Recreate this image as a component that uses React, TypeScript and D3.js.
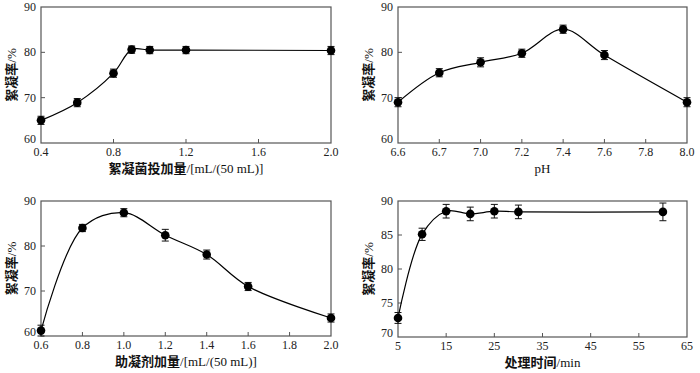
import * as d3 from "d3";

// panel (a) flocculant bacteria dosage
const doseX = [0.4, 0.6, 0.8, 0.9, 1.0, 1.2, 2.0];
const doseY = [65.0, 68.9, 75.4, 80.6, 80.5, 80.5, 80.4];
const doseErr = [0.9, 0.9, 0.9, 0.8, 0.8, 0.8, 0.9];
const doseTicks = [0.4, 0.8, 1.2, 1.6, 2.0];

// panel (b) pH
const phTicks = ["6.6", "6.7", "7.0", "7.2", "7.4", "7.6", "7.8", "8.0"];
const phX = ["6.6", "6.7", "7.0", "7.2", "7.4", "7.6", "8.0"];
const phY = [69.0, 75.5, 77.8, 79.8, 85.1, 79.4, 69.0];
const phErr = [1.0, 0.9, 1.0, 0.9, 0.9, 1.0, 1.0];

// panel (c) coagulant aid dosage
const aidX = [0.6, 0.8, 1.0, 1.2, 1.4, 1.6, 2.0];
const aidY = [61.2, 84.0, 87.4, 82.4, 78.1, 71.0, 64.0];
const aidErr = [1.2, 0.8, 0.9, 1.3, 1.0, 0.9, 0.9];
const aidTicks = [0.6, 0.8, 1.0, 1.2, 1.4, 1.6, 1.8, 2.0];

// panel (d) treatment time
const timeX = [5, 10, 15, 20, 25, 30, 60];
const timeY = [72.8, 85.1, 88.5, 88.1, 88.5, 88.4, 88.4];
const timeErr = [0.8, 0.9, 1.0, 1.0, 1.0, 1.0, 1.3];
const timeTicks = [5, 15, 25, 35, 45, 55, 65];

const yTicks60 = [60, 70, 80, 90];
const yTicks70 = [70, 75, 80, 85, 90];
const yTitle = "絮凝率/%";

const serif = "'Liberation Serif', 'Times New Roman', 'Noto Sans CJK SC', serif";
const frame = "#555";

type Panel = {
  box: [number, number, number, number]; // left, top, right, bottom
  x: any;
  xTicks: any[];
  fmt: (v: any) => string;
  y: d3.ScaleLinear<number, number>;
  yTicks: number[];
  xs: any[];
  ys: number[];
  err: number[];
  xTitle: string;
};

function makePanels(): Panel[] {
  const p1: [number, number, number, number] = [41, 7, 331, 143];
  const p2: [number, number, number, number] = [398, 7, 687, 143];
  const p3: [number, number, number, number] = [41, 201, 331, 336];
  const p4: [number, number, number, number] = [398, 201, 687, 337];
  return [
    {
      box: p1,
      x: d3.scaleLinear().domain([0.4, 2.0]).range([p1[0], p1[2]]),
      xTicks: doseTicks,
      fmt: d3.format(".1f"),
      y: d3.scaleLinear().domain([60, 90]).range([p1[3], p1[1]]),
      yTicks: yTicks60,
      xs: doseX, ys: doseY, err: doseErr,
      xTitle: "絮凝菌投加量/[mL/(50 mL)]",
    },
    {
      box: p2,
      x: d3.scalePoint<string>().domain(phTicks).range([p2[0], p2[2]]),
      xTicks: phTicks,
      fmt: (v: string) => v,
      y: d3.scaleLinear().domain([60, 90]).range([p2[3], p2[1]]),
      yTicks: yTicks60,
      xs: phX, ys: phY, err: phErr,
      xTitle: "pH",
    },
    {
      box: p3,
      x: d3.scaleLinear().domain([0.6, 2.0]).range([p3[0], p3[2]]),
      xTicks: aidTicks,
      fmt: d3.format(".1f"),
      y: d3.scaleLinear().domain([60, 90]).range([p3[3], p3[1]]),
      yTicks: yTicks60,
      xs: aidX, ys: aidY, err: aidErr,
      xTitle: "助凝剂加量/[mL/(50 mL)]",
    },
    {
      box: p4,
      x: d3.scaleLinear().domain([5, 65]).range([p4[0], p4[2]]),
      xTicks: timeTicks,
      fmt: d3.format("d"),
      y: d3.scaleLinear().domain([70, 90]).range([p4[3], p4[1]]),
      yTicks: yTicks70,
      xs: timeX, ys: timeY, err: timeErr,
      xTitle: "处理时间/min",
    },
  ];
}

// chinese part drawn heavier, like the printed figure
function Title({ s }: { s: string }) {
  const k = s.indexOf("/");
  if (k < 0) return <>{s}</>;
  return (
    <>
      <tspan fontWeight={700}>{s.slice(0, k)}</tspan>
      <tspan>{s.slice(k)}</tspan>
    </>
  );
}

function Chart({ p }: { p: Panel }) {
  const [l, t, r, b] = p.box;
  const pts = p.xs.map((xv, i) => [p.x(xv) as number, p.y(p.ys[i])] as [number, number]);
  const line = d3.line().curve(d3.curveCatmullRom.alpha(0.5))(pts) || "";
  const cx = (l + r) / 2;
  const cy = (t + b) / 2;
  return (
    <g>
      <rect x={l} y={t} width={r - l} height={b - t} fill="none" stroke={frame} strokeWidth={1.2} />
      {p.xTicks.map((v, i) => {
        const xx = p.x(v) as number;
        return (
          <g key={"x" + i}>
            {i > 0 && i < p.xTicks.length - 1 && (
              <line x1={xx} x2={xx} y1={b} y2={b - 4} stroke={frame} />
            )}
            <text x={xx} y={b + 13} textAnchor="middle" fontSize={12} fontFamily={serif} fill="#222">
              {p.fmt(v)}
            </text>
          </g>
        );
      })}
      {p.yTicks.map((v, i) => {
        const yy = p.y(v);
        return (
          <g key={"y" + i}>
            {i > 0 && i < p.yTicks.length - 1 && (
              <line x1={l} x2={l + 4} y1={yy} y2={yy} stroke={frame} />
            )}
            <text x={l - 5} y={yy + (i === 0 ? 0 : 4)} textAnchor="end" fontSize={12} fontFamily={serif} fill="#222">
              {v}
            </text>
          </g>
        );
      })}
      <path d={line} fill="none" stroke="#000" strokeWidth={1.2} />
      {pts.map(([px], i) => {
        const y0 = Math.min(p.y(p.ys[i] - p.err[i]), b);
        const y1 = p.y(p.ys[i] + p.err[i]);
        return (
          <g key={"e" + i} stroke="#111" strokeWidth={1}>
            <line x1={px} x2={px} y1={y0} y2={y1} />
            <line x1={px - 3.5} x2={px + 3.5} y1={y0} y2={y0} />
            <line x1={px - 3.5} x2={px + 3.5} y1={y1} y2={y1} />
          </g>
        );
      })}
      {pts.map(([px, py], i) => (
        <circle key={"c" + i} cx={px} cy={py} r={4.3} fill="#000" />
      ))}
      <text x={cx} y={b + 30} textAnchor="middle" fontSize={13} fontFamily={serif} fill="#111">
        <Title s={p.xTitle} />
      </text>
      <text
        transform={`translate(${l - 25},${cy}) rotate(-90)`}
        textAnchor="middle"
        fontSize={13}
        fontFamily={serif}
        fill="#111"
      >
        <Title s={yTitle} />
      </text>
    </g>
  );
}

export default function App() {
  const panels = makePanels();
  return (
    <svg width={700} height={373} style={{ position: "absolute", left: 0, top: 0, background: "#fff" }}>
      {panels.map((p, i) => (
        <Chart key={i} p={p} />
      ))}
    </svg>
  );
}
